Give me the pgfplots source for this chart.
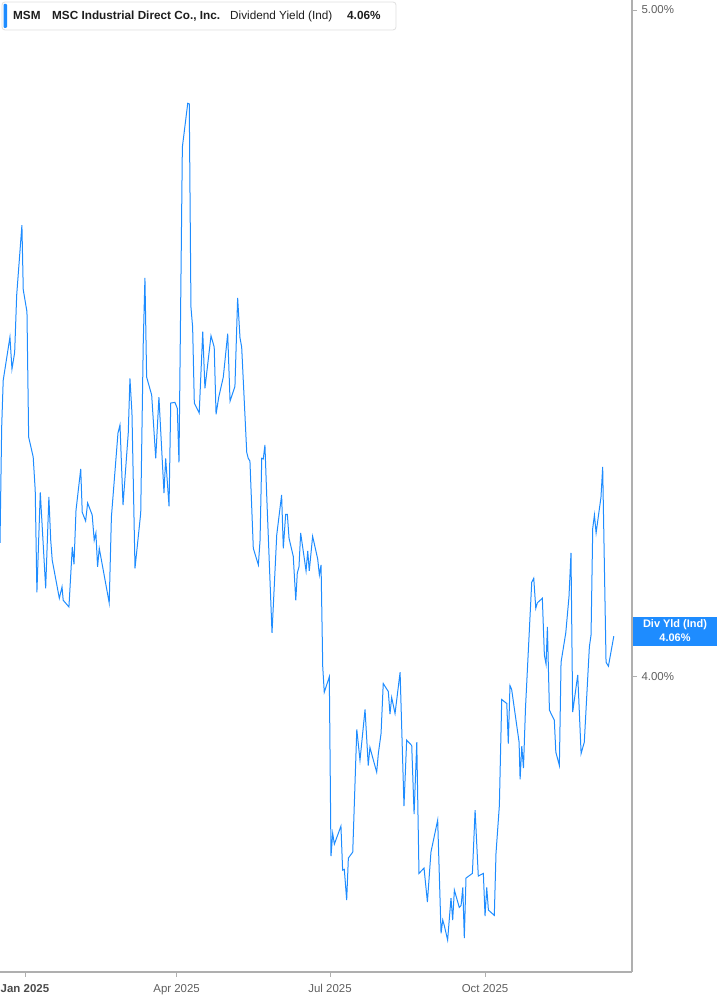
\documentclass[border=0pt]{standalone}
\usepackage{fontspec}
\setmainfont{Liberation Sans}
\usepackage{pgfplots}
\pgfplotsset{compat=1.18}
\definecolor{lineblue}{RGB}{30,140,255}
\definecolor{axgray}{RGB}{175,175,175}
\definecolor{txtgray}{RGB}{95,95,95}
\definecolor{txtdark}{RGB}{30,30,30}
\begin{document}
\begin{tikzpicture}
\path[use as bounding box] (0bp,0bp) rectangle (717bp,1005bp);
\begin{axis}[
  at={(0bp,33bp)}, anchor=south west,
  scale only axis, width=632bp, height=972bp,
  xmin=-14.8, xmax=360.2, ymin=3.556, ymax=5.015,
  axis x line*=bottom, axis y line*=right,
  axis line style={axgray, line width=1.2bp},
  tick style={axgray, line width=0.8bp},
  tick align=outside, major tick length=5bp,
  xtick={0,90,181,273},
  xticklabels={{\color{txtdark!80}\bfseries Jan 2025},Apr 2025,Jul 2025,Oct 2025},
  xticklabel style={font=\fontsize{11.5}{11.5}\selectfont, text=txtgray, yshift=-4bp},
  ytick={4,5},
  yticklabels={4.00\%,5.00\%},
  yticklabel style={font=\fontsize{11.5}{11.5}\selectfont, text=txtgray, xshift=1bp},
  clip=false,
]
\addplot[lineblue, line width=1bp] table {
x y
-14.8 4.200
-13.8 4.374
-12.9 4.444
-8.9 4.509
-7.7 4.461
-6.1 4.486
-4.9 4.572
-1.8 4.677
-1.0 4.580
1.2 4.547
2.2 4.359
4.9 4.329
6.1 4.279
7.1 4.126
9.1 4.276
12.3 4.132
14.2 4.269
15.3 4.204
16.2 4.174
20.4 4.117
22.0 4.134
22.7 4.114
26.1 4.104
28.1 4.194
29.1 4.168
30.3 4.249
33.1 4.311
34.0 4.246
36.0 4.233
37.2 4.260
39.9 4.242
41.1 4.204
42.1 4.215
43.1 4.164
44.1 4.192
50.0 4.110
51.3 4.239
55.2 4.365
56.4 4.377
58.2 4.257
61.3 4.365
62.3 4.447
63.5 4.395
65.3 4.162
68.7 4.245
70.2 4.500
71.2 4.598
72.2 4.449
75.2 4.422
77.6 4.327
79.5 4.419
82.5 4.275
83.5 4.327
85.5 4.255
86.5 4.410
89.0 4.411
90.4 4.402
91.4 4.321
93.4 4.794
96.6 4.860
97.5 4.859
98.5 4.554
99.5 4.524
100.5 4.410
103.4 4.395
105.5 4.517
106.8 4.432
110.4 4.511
112.3 4.494
113.4 4.393
115.0 4.419
117.7 4.449
120.3 4.514
121.7 4.413
124.6 4.435
126.2 4.568
127.6 4.508
128.6 4.494
131.6 4.336
132.5 4.327
133.5 4.323
135.5 4.192
138.5 4.167
139.5 4.204
140.5 4.327
141.4 4.326
142.4 4.347
143.4 4.275
146.6 4.065
149.4 4.212
152.3 4.272
153.3 4.192
154.7 4.243
155.7 4.243
156.7 4.207
159.2 4.180
160.7 4.114
161.6 4.155
162.6 4.164
163.6 4.215
166.8 4.158
167.8 4.188
168.7 4.158
170.7 4.210
173.7 4.176
174.7 4.152
175.7 4.167
176.7 4.014
177.6 3.976
180.6 3.999
181.6 3.730
182.6 3.764
183.6 3.748
187.5 3.775
188.5 3.709
189.5 3.710
190.9 3.664
191.9 3.727
194.5 3.736
196.9 3.920
198.8 3.874
201.8 3.950
203.7 3.866
204.7 3.893
208.7 3.856
209.7 3.884
211.3 3.914
212.6 3.989
215.6 3.977
216.6 3.943
217.6 3.968
219.6 3.944
222.6 4.006
224.9 3.805
226.5 3.904
229.5 3.896
230.9 3.793
232.5 3.901
233.8 3.704
236.8 3.712
238.8 3.661
240.9 3.736
244.9 3.784
246.9 3.614
247.9 3.634
248.8 3.626
250.8 3.604
252.8 3.667
253.8 3.634
254.8 3.679
257.7 3.653
258.8 3.656
259.8 3.683
260.7 3.607
261.7 3.697
265.5 3.704
267.1 3.799
269.0 3.700
272.0 3.704
273.0 3.640
274.0 3.683
275.0 3.649
278.5 3.641
279.5 3.734
281.5 3.806
282.9 3.965
285.9 3.959
286.8 3.899
287.8 3.986
288.8 3.980
293.2 3.901
293.8 3.845
294.8 3.895
295.8 3.862
297.0 3.952
300.7 4.141
301.9 4.147
303.1 4.102
304.0 4.110
307.0 4.117
308.2 4.032
309.2 4.018
310.0 4.074
311.2 3.949
314.1 3.934
315.0 3.886
317.1 3.866
318.1 4.021
320.9 4.065
322.8 4.119
324.0 4.185
325.0 3.946
328.0 4.002
330.0 3.884
331.9 3.901
334.9 4.044
335.9 4.062
336.9 4.222
337.9 4.242
338.9 4.215
341.8 4.269
342.8 4.314
344.8 4.021
346.2 4.015
349.4 4.060
};
\end{axis}
% header box
\draw[gray!25, fill=white, rounded corners=3bp, line width=0.8bp] (2bp,975bp) rectangle (396bp,1003bp);
\fill[lineblue, rounded corners=1bp] (3.5bp,977bp) rectangle (7bp,1001bp);
\begin{scope}[every node/.style={anchor=base west, inner sep=0pt, font=\fontsize{11.8}{12}\selectfont, text=txtdark}]
\node at (13bp,985bp) {\bfseries MSM};
\node at (52bp,985bp) {\bfseries MSC Industrial Direct Co., Inc.};
\node at (230bp,985bp) {Dividend Yield (Ind)};
\node at (347bp,985bp) {\bfseries 4.06\%};
\end{scope}
% last value tag
\fill[lineblue] (633bp,359bp) rectangle (717bp,388bp);
\node[text=white, font=\bfseries\fontsize{11}{11}\selectfont, inner sep=0pt] at (675bp,380bp) {Div Yld (Ind)};
\node[text=white, font=\bfseries\fontsize{11}{11}\selectfont, inner sep=0pt] at (675bp,367bp) {4.06\%};
\end{tikzpicture}
\end{document}
